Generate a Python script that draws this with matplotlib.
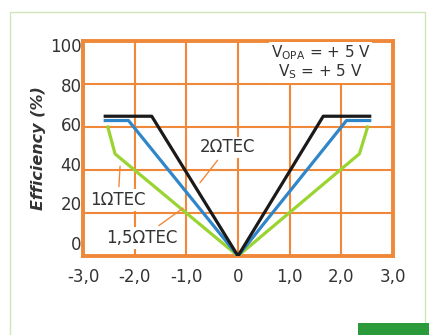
#!/usr/bin/env python3
"""Efficiency vs. current for three TEC loads"""

import matplotlib
matplotlib.use("Agg")
import matplotlib.pyplot as plt
from matplotlib.patches import Rectangle

plt.rcParams['font.family'] = ['DejaVu Sans']
plt.rcParams['mathtext.fontset'] = 'dejavusans'

# data
x_2ohm = [-2.57, -1.67, 0.0, 1.65, 2.55]
y_2ohm = [65, 65, 0, 65, 65]

x_15ohm = [-2.57, -2.12, 0.0, 2.1, 2.55]
y_15ohm = [63, 63, 0, 63, 63]

x_1ohm = [-2.52, -2.38, 0.0, 2.35, 2.51]
y_1ohm = [60, 47.5, 0, 47.5, 60]

x_ticks = [-3, -2, -1, 0, 1, 2, 3]
x_labels = ['-3,0', '-2,0', '-1,0', '0', '1,0', '2,0', '3,0']
y_ticks = [0, 20, 40, 60, 80, 100]

ORANGE = '#f0883a'
TXT = '#333333'

fig = plt.figure(figsize=(4.29, 3.35), dpi=100)
fig.patches.append(Rectangle((10 / 429, -0.05), 415 / 429, 1 - 12 / 335 + 0.05,
                             transform=fig.transFigure, fill=False,
                             edgecolor='#cfe6b8', lw=1))
fig.patches.append(Rectangle((358 / 429, 0), 71 / 429, 12 / 335,
                             transform=fig.transFigure, color='#2a9a3a', lw=0))

ax = fig.add_axes([0.1935, 0.236, 0.7225, 0.6416])
ax.plot(x_1ohm, y_1ohm, color='#9ad430', lw=2.3, zorder=3)
ax.plot(x_15ohm, y_15ohm, color='#2f86c8', lw=2.3, zorder=4)
ax.plot(x_2ohm, y_2ohm, color='#1a1a1a', lw=2.3, zorder=5)

ax.set_xlim(-3, 3)
ax.set_ylim(0, 100)
ax.set_xticks(x_ticks)
ax.set_xticklabels(x_labels)
ax.set_yticks(y_ticks)
ax.grid(True, color=ORANGE, lw=1.5)
for s in ax.spines.values():
    s.set_color(ORANGE)
    s.set_linewidth(2.8)
ax.tick_params(axis='x', length=0, pad=9, labelsize=12, labelcolor=TXT)
ax.tick_params(axis='y', length=0, labelleft=False)

# the printed y labels drift a little from the grid lines
sec = ax.secondary_yaxis('left', functions=(lambda g: 1.086 * g - 6.57,
                                            lambda v: (v + 6.57) / 1.086))
sec.set_yticks(y_ticks)
sec.tick_params(length=0, pad=1, labelsize=12, labelcolor=TXT)
sec.spines['left'].set_visible(False)
sec.set_ylabel('Efficiency (%)', fontsize=11.5, fontweight='bold',
               fontstyle='italic', color=TXT, labelpad=3)

box = dict(boxstyle='square,pad=0.1', fc='white', ec='none')
arrow = dict(arrowstyle='-', color=ORANGE, lw=1)
ax.annotate('2ΩTEC', xy=(-0.77, 33), xytext=(-0.2, 50.5), ha='center',
            va='center', fontsize=12, color=TXT, bbox=box, arrowprops=arrow,
            zorder=6)
ax.annotate('1ΩTEC', xy=(-2.28, 43), xytext=(-2.32, 26), ha='center',
            va='center', fontsize=12, color=TXT, bbox=box, arrowprops=arrow,
            zorder=6)
ax.annotate('1,5ΩTEC', xy=(-1.02, 23), xytext=(-1.86, 8.4), ha='center',
            va='center', fontsize=12, color=TXT, bbox=box, arrowprops=arrow,
            zorder=6)
ax.text(1.6, 90, 'V$_\\mathregular{OPA}$ = + 5 V\nV$_\\mathregular{S}$ = + 5 V',
        ha='center', va='center', fontsize=11, color=TXT, linespacing=1.0,
        bbox=box, zorder=6)

plt.savefig('out.png', dpi=100)
